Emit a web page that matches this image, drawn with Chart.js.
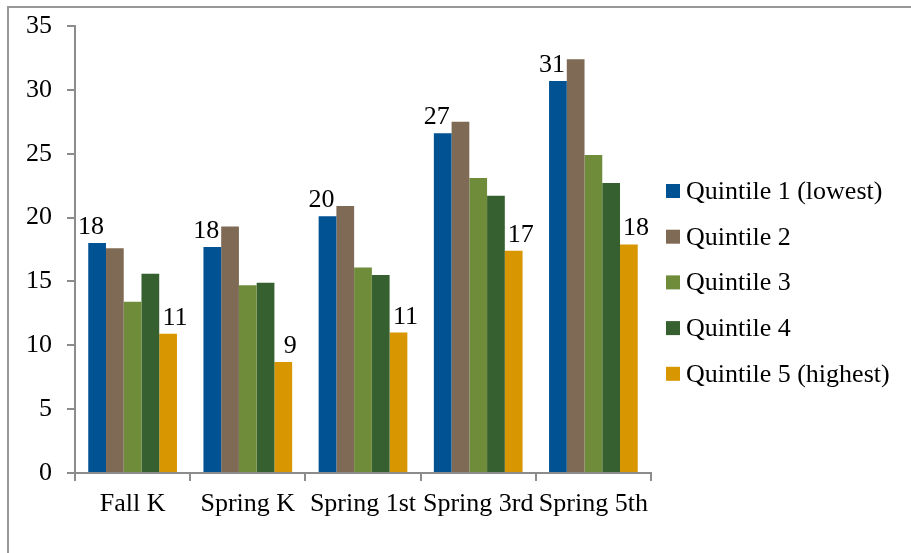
<!DOCTYPE html>
<html lang="en">
<head>
  <meta charset="UTF-8" />
  <title>Quintile chart</title>
  <style>
    body {
      margin: 0;
      background: #fff;
      font-family: 'Liberation Serif', 'Times New Roman', serif;
    }
    .frame {
      position: absolute;
      left: 7px;
      top: 6px;
      width: 910px;
      height: 600px;
      border-top: 2px solid #989898;
      border-left: 2px solid #989898;
    }
    .wrap {
      position: absolute;
      left: 0;
      top: 0;
      width: 911px;
      height: 553px;
    }
  </style>
</head>
<body>
  <div class="frame"></div>
  <div class="wrap"><canvas id="chart"></canvas></div>

  <script src="https://cdn.jsdelivr.net/npm/chart.js"></script>
  <script>
    const categories = ['Fall K', 'Spring K', 'Spring 1st', 'Spring 3rd', 'Spring 5th'];
    const quintile1 = [18.0, 17.7, 20.1, 26.6, 30.7];
    const quintile2 = [17.6, 19.3, 20.9, 27.5, 32.4];
    const quintile3 = [13.4, 14.7, 16.1, 23.1, 24.9];
    const quintile4 = [15.6, 14.9, 15.5, 21.7, 22.7];
    const quintile5 = [10.9, 8.7, 11.0, 17.4, 17.9];
    const seriesNames = ['Quintile 1 (lowest)', 'Quintile 2', 'Quintile 3', 'Quintile 4', 'Quintile 5 (highest)'];
    const yTicks = [0, 5, 10, 15, 20, 25, 30, 35];

    const colors = ['#005293', '#7f6a55', '#6f8c3a', '#376030', '#d89600'];
    const FONT = { family: "'Liberation Serif', 'Times New Roman', serif", size: 26 };

    // value labels above the first and last series
    const barLabels = {
      id: 'barLabels',
      afterDatasetsDraw(chart) {
        const ctx = chart.ctx;
        ctx.save();
        ctx.font = FONT.size + 'px ' + FONT.family;
        ctx.fillStyle = '#000';
        ctx.textAlign = 'center';
        ctx.textBaseline = 'alphabetic';
        [[0, -6], [4, 7]].forEach(([di, dx]) => {
          const meta = chart.getDatasetMeta(di);
          meta.data.forEach((bar, i) => {
            const v = chart.data.datasets[di].data[i];
            ctx.fillText(Math.round(v), bar.x + dx, bar.y - 9);
          });
        });
        ctx.restore();
      }
    };

    // legend on the right, Excel style
    const sideLegend = {
      id: 'sideLegend',
      afterDraw(chart) {
        const ctx = chart.ctx;
        const area = chart.chartArea;
        const x = area.right + 15;
        const y0 = area.top + 165;
        ctx.save();
        ctx.font = FONT.size + 'px ' + FONT.family;
        ctx.textBaseline = 'middle';
        ctx.textAlign = 'left';
        chart.data.datasets.forEach((ds, i) => {
          const y = y0 + i * 45.7;
          ctx.fillStyle = ds.backgroundColor;
          ctx.fillRect(x, y - 7, 14, 14);
          ctx.fillStyle = '#000';
          ctx.fillText(ds.label, x + 20, y + 1);
        });
        ctx.restore();
      }
    };

    const allSeries = [quintile1, quintile2, quintile3, quintile4, quintile5];

    new Chart(document.getElementById('chart'), {
      type: 'bar',
      data: {
        labels: categories,
        datasets: allSeries.map((d, i) => ({
          label: seriesNames[i],
          data: d,
          backgroundColor: colors[i],
          borderWidth: 0,
          categoryPercentage: 0.77,
          barPercentage: 1
        }))
      },
      options: {
        responsive: true,
        maintainAspectRatio: false,
        animation: false,
        events: [],
        layout: { padding: { top: 26, right: 260, left: 0, bottom: 0 } },
        plugins: {
          legend: { display: false },
          tooltip: { enabled: false }
        },
        scales: {
          x: {
            offset: true,
            grid: { offset: true, drawOnChartArea: false, drawTicks: true, tickLength: 8, color: '#8c8c8c', lineWidth: 2 },
            border: { color: '#8c8c8c', width: 2 },
            ticks: { color: '#000', font: FONT, padding: 8, maxRotation: 0, autoSkip: false },
            afterFit(s) { s.height = 80; }
          },
          y: {
            min: 0,
            max: 35,
            afterBuildTicks(s) { s.ticks = yTicks.map(v => ({ value: v })); },
            grid: { drawOnChartArea: false, drawTicks: true, tickLength: 8, color: '#8c8c8c', lineWidth: 2 },
            border: { color: '#8c8c8c', width: 2 },
            ticks: { color: '#000', font: FONT, padding: 15 },
            afterFit(s) { s.width = 75; s.paddingTop = 0; s.paddingBottom = 0; }
          }
        }
      },
      plugins: [barLabels, sideLegend]
    });
  </script>
</body>
</html>
